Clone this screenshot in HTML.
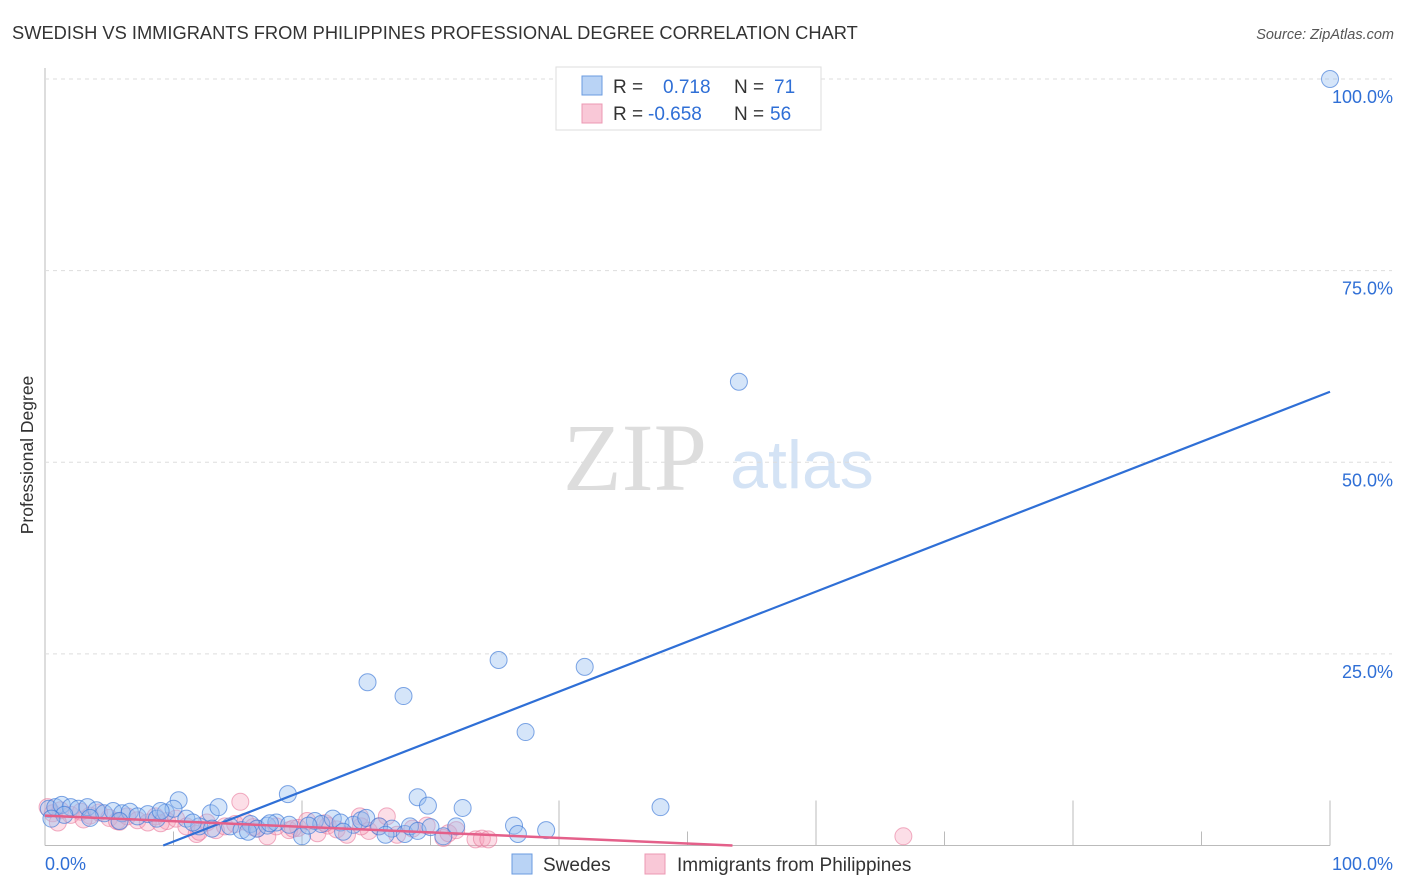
<!DOCTYPE html>
<html><head><meta charset="utf-8"><style>
body{margin:0;background:#fff;font-family:"Liberation Sans",sans-serif}
svg{display:block}
</style></head><body>
<svg id="chart" width="1406" height="892">
<text x="12" y="39" font-size="18.3" fill="#333">SWEDISH VS IMMIGRANTS FROM PHILIPPINES PROFESSIONAL DEGREE CORRELATION CHART</text>
<text x="1394" y="39" font-size="14.5" fill="#555" font-style="italic" text-anchor="end">Source: ZipAtlas.com</text>
<text x="33" y="455" font-size="17.5" fill="#333" text-anchor="middle" transform="rotate(-90 33 455)">Professional Degree</text>
<g>
<text x="635" y="490" font-size="96" fill="#ddd" font-family="Liberation Serif,serif" text-anchor="middle">ZIP</text>
<text x="802" y="488" font-size="68" fill="#d4e3f5" text-anchor="middle">atlas</text>
</g>
<g id="grid"></g>
<g id="ticks"></g>
<g id="pts"></g>
<g id="lines"></g>
<g>
<rect x="556" y="67" width="265" height="63" fill="#fff" stroke="#ddd"/>
<rect x="582" y="76" width="20" height="19" fill="#b9d3f5" stroke="#6a9be0"/>
<rect x="582" y="104" width="20" height="19" fill="#f9c8d7" stroke="#ec98b3"/>
<text x="613" y="93" font-size="19" fill="#333">R =</text><text x="663" y="93" font-size="19" fill="#2f6fd6">0.718</text>
<text x="734" y="93" font-size="19" fill="#333">N =</text><text x="774" y="93" font-size="19" fill="#2f6fd6">71</text>
<text x="613" y="120" font-size="19" fill="#333">R =</text><text x="648" y="120" font-size="19" fill="#2f6fd6">-0.658</text>
<text x="734" y="120" font-size="19" fill="#333">N =</text><text x="770" y="120" font-size="19" fill="#2f6fd6">56</text>
</g>
<g>
<rect x="512" y="854" width="20" height="20" fill="#b9d3f5" stroke="#6a9be0"/>
<text x="543" y="871" font-size="19" fill="#333">Swedes</text>
<rect x="645" y="854" width="20" height="20" fill="#f9c8d7" stroke="#ec98b3"/>
<text x="677" y="871" font-size="19" fill="#333">Immigrants from Philippines</text>
</g>
<text x="45" y="870" font-size="18" fill="#2f6fd6">0.0%</text>
<text x="1393" y="870" font-size="18" fill="#2f6fd6" text-anchor="end">100.0%</text>
</svg>
<script>
const yTicks=[25,50,75,100];
const yTickLabels=["25.0%","50.0%","75.0%","100.0%"];
const swedesX=[100,54,25.1,27.9,35.3,42,37.4,18.9,29,29.8,32.5,47.9,10.4,0.3,0.8,1.3,2,2.6,3.3,4,4.6,5.3,6,6.6,7.2,8,8.7,9.4,10,11,12,12.9,13.5,14.4,15.3,16,16.5,17.3,18,19,20,21,21.5,22.4,23,24,24.6,25,26,27,28,28.4,29,30,31,32,36.5,36.8,39,1.5,3.5,5.8,9,11.5,13,15.8,17.5,20.5,23.2,26.5,0.5];
const swedesY=[100,60.5,21.3,19.5,24.2,23.3,14.8,6.7,6.3,5.2,4.9,5,5.9,4.8,5,5.3,5,4.8,5,4.6,4.2,4.5,4.2,4.4,3.8,4.1,3.5,4.3,4.8,3.5,2.5,4.2,5,2.5,2,2.8,2.2,2.6,3,2.7,1.2,3.2,2.8,3.5,3,2.7,3.3,3.6,2.5,2.2,1.5,2.5,1.9,2.4,1.2,2.5,2.6,1.5,2,4,3.6,3.2,4.5,3,2.2,1.8,2.9,2.6,1.8,1.4,3.5];
const philX=[66.8,15.2,0.2,0.6,1.2,2,2.8,3.5,4.2,5,5.6,6.4,7.2,8,8.6,9.5,10.2,11,11.8,12.6,13.3,14,14.8,15.6,16.5,17.3,18,19,19.7,20.4,21.2,22,22.7,23.5,24.5,25.2,26,26.6,27.4,28.6,29.7,31,31.4,32,33.5,34,34.5,1,3,5.8,9,12,16.2,19.3,24.6,21.8];
const philY=[1.2,5.7,5,4.2,4.6,4,4.4,3.9,4.3,3.6,3.2,3.8,3.3,3,3.8,3.2,3.5,2.5,1.5,3,2,2.5,2.8,3.1,2.2,1.2,2.5,2,2.3,3.2,1.6,2.6,2.1,1.4,3.8,1.9,2.5,3.8,1.4,2.2,2.6,1,1.6,2,0.8,0.9,0.8,3,3.4,3.1,2.9,1.8,2.4,2.2,2.5,2.9];
const sw={x0:9.2,y0:0,x1:100,y1:59.2};
const ph={x0:0,y0:3.9,x1:53.5,y1:0};
const X=v=>45+v*12.85, Y=v=>845.5-v*7.665;
const NS="http://www.w3.org/2000/svg";
function mk(tag,at,par){const e=document.createElementNS(NS,tag);for(const k in at)e.setAttribute(k,at[k]);document.getElementById(par).appendChild(e);return e;}
const g=mk('line',{x1:45,y1:845.5,x2:45,y2:68,stroke:'#bbb'},'grid');


const xa=mk('line',{x1:45,y1:845.5,x2:1330,y2:845.5,stroke:'#bbb'},'grid');


yTicks.forEach((t,i)=>{
 const l=mk('line',{x1:45,y1:Y(t),x2:1392,y2:Y(t),stroke:'#ddd','stroke-dasharray':'4,4'},'grid');
 
 
 const tx=mk('text',{x:1393,y:Y(t)+24,'font-size':18,fill:'#2f6fd6','text-anchor':'end'},'grid');
 tx.textContent=yTickLabels[i];
 
 
});
for(let i=1;i<=10;i++){
 const h=(i%2==0)?45:14;
 const t=mk('line',{x1:X(i*10),y1:845.5,x2:X(i*10),y2:845.5-h,stroke:'#bbb'},'ticks');
 
 
}
philX.forEach((x,i)=>{
 const c=mk('circle',{cx:X(x),cy:Y(philY[i]),r:8.5,fill:'rgba(245,160,185,0.35)',stroke:'rgba(232,120,155,0.6)'},'pts');
 
 
});
swedesX.forEach((x,i)=>{
 const c=mk('circle',{cx:X(x),cy:Y(swedesY[i]),r:8.5,fill:'rgba(150,190,240,0.4)',stroke:'rgba(60,120,215,0.65)'},'pts');
 
 
});
const bl=mk('line',{x1:X(sw.x0),y1:Y(sw.y0),x2:X(sw.x1),y2:Y(sw.y1),stroke:'#2f6fd6','stroke-width':2.2},'lines');


const pl=mk('line',{x1:X(ph.x0),y1:Y(ph.y0),x2:X(ph.x1),y2:Y(ph.y1),stroke:'#e4608a','stroke-width':2.5},'lines');


</script>
</body></html>
